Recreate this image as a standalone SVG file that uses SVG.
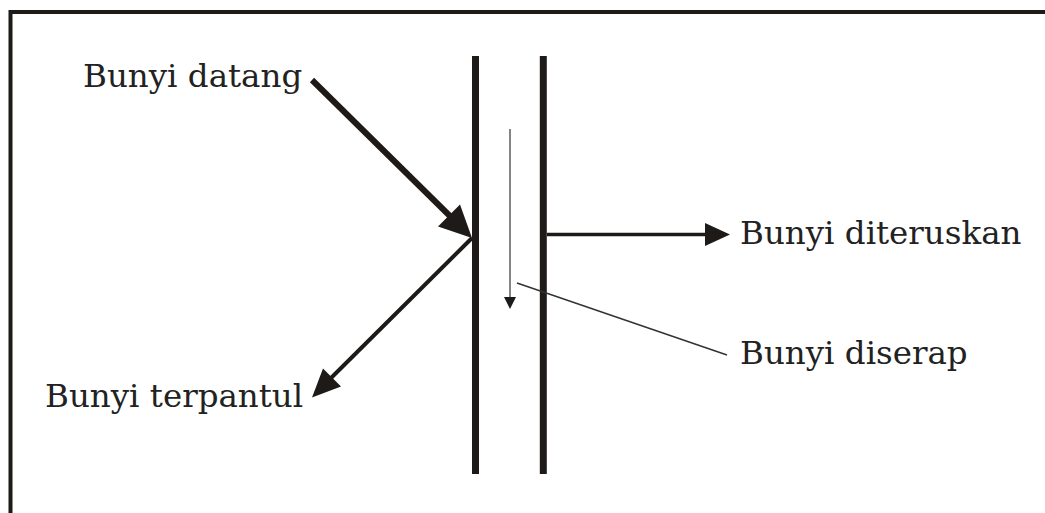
<svg xmlns="http://www.w3.org/2000/svg" width="1045" height="513" viewBox="0 0 1045 513">
  <style>
    .lbl { font-family: "DejaVu Serif", "Liberation Serif", serif; font-size: 32.5px; fill: #222; }
    .wall { stroke: #1e1a18; stroke-width: 7; }
    .ink { fill: #1e1a18; }
  </style>
  <rect width="1045" height="513" fill="#fff"/>
  <g id="frame" stroke="#1e1a18" stroke-width="4" fill="none">
    <path d="M10.5 513 V12 H1045"/>
  </g>
  <g id="walls">
    <line class="wall" x1="475.5" y1="56" x2="475.5" y2="474"/>
    <line class="wall" x1="543.3" y1="56" x2="543.3" y2="474"/>
  </g>
  <g id="connectors">
    <line x1="312" y1="80" x2="455" y2="221" stroke="#1e1a18" stroke-width="6"/>
    <polygon class="ink" points="472,238 438,226.5 460,204.5"/>
    <line x1="472" y1="238" x2="328" y2="381" stroke="#1e1a18" stroke-width="4"/>
    <polygon class="ink" points="312,397.5 341,386.5 323,368.5"/>
    <line x1="547" y1="234.5" x2="708" y2="234.5" stroke="#1e1a18" stroke-width="3.5"/>
    <polygon class="ink" points="730,234.5 705,223 705,246"/>
    <line x1="510" y1="129" x2="510" y2="300" stroke="#666" stroke-width="1.6"/>
    <polygon class="ink" points="504,297 516,297 510,309"/>
    <line x1="517" y1="283" x2="727" y2="355" stroke="#333" stroke-width="1.5"/>
  </g>
  <g id="label-datang"><text class="lbl" x="83" y="87">Bunyi datang</text></g>
  <g id="label-diteruskan"><text class="lbl" x="740" y="244">Bunyi diteruskan</text></g>
  <g id="label-diserap"><text class="lbl" x="740" y="364">Bunyi diserap</text></g>
  <g id="label-terpantul"><text class="lbl" x="45" y="407">Bunyi terpantul</text></g>
</svg>
